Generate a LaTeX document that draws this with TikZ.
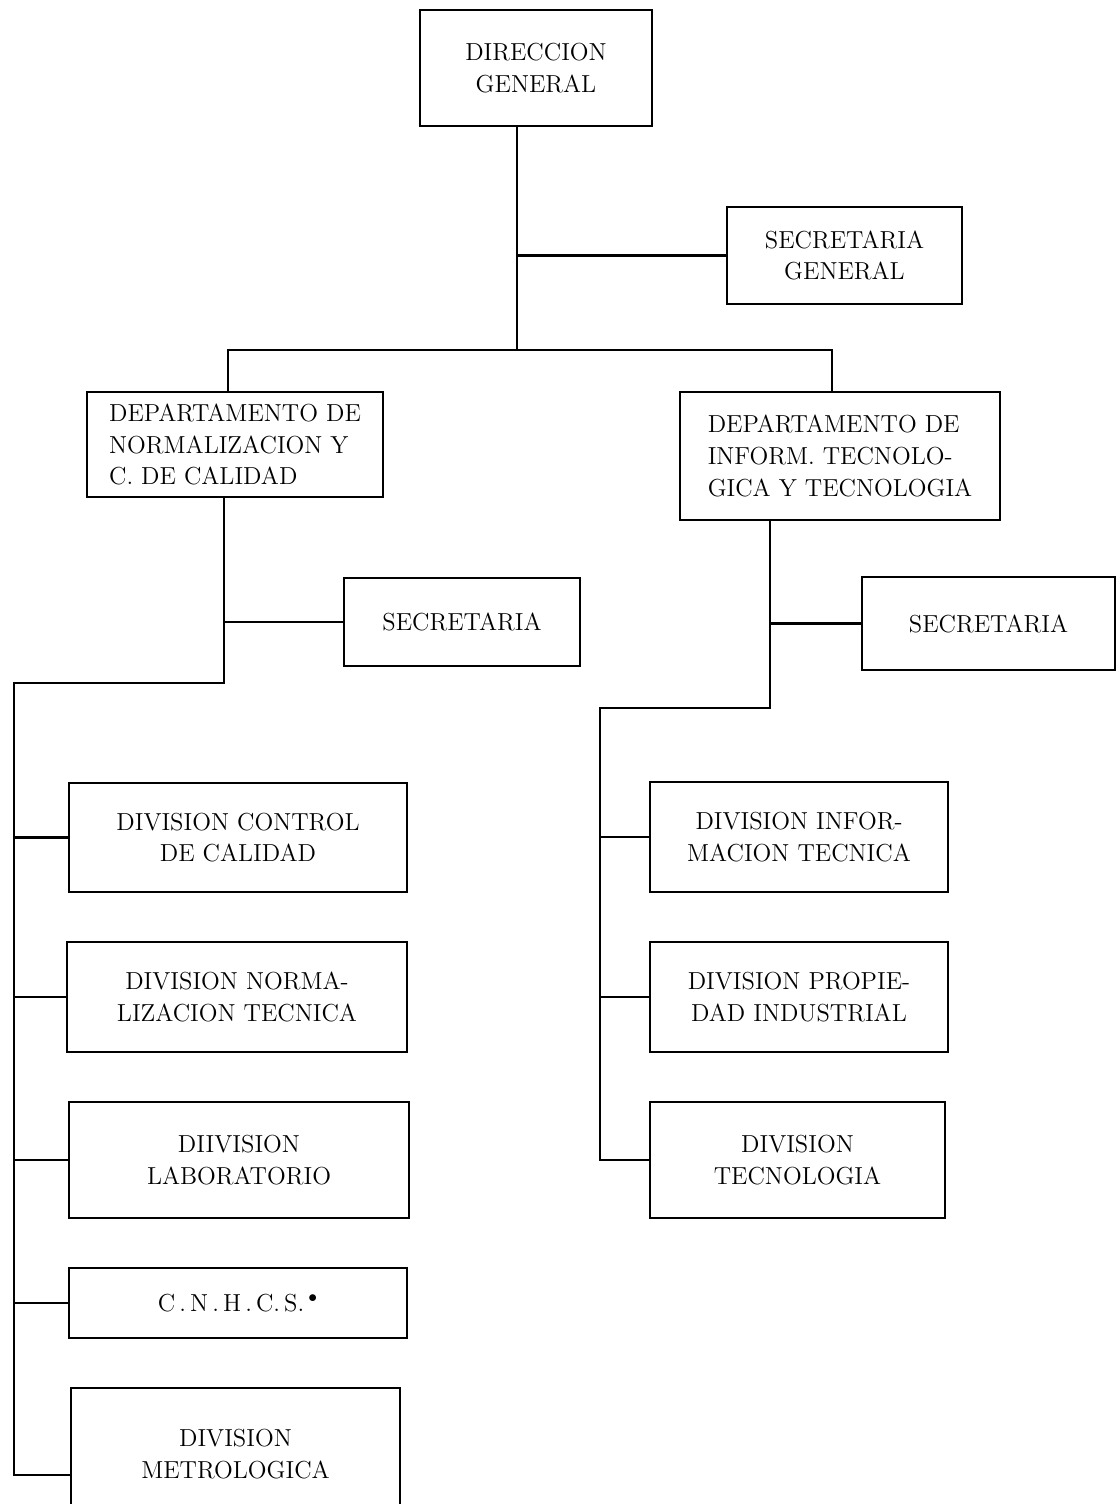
\documentclass[tikz,border=0pt]{standalone}
\usepackage{fontspec}
\usetikzlibrary{calc}

\begin{document}
\begin{tikzpicture}[x=0.02cm,y=-0.02cm]
\tikzstyle{unit} = [draw, line width=1.6pt, align=center, inner sep=0pt, font=\fontsize{14}{18}\selectfont]
\tikzstyle{link} = [line width=1.6pt]
\useasboundingbox (0,0) rectangle (1117,1504);

% direccion
\node[unit, minimum width=4.64cm, minimum height=2.32cm](dir) at (536,68) {DIRECCION\\GENERAL};
\node[unit, minimum width=4.70cm, minimum height=1.94cm](secg) at (844.5,255.5) {SECRETARIA\\GENERAL};

% departamentos
\node[unit, align=left, minimum width=5.92cm, minimum height=2.10cm](depn) at (235,444.5)
    {DEPARTAMENTO DE\\NORMALIZACION Y\\C. DE CALIDAD};
\node[unit, align=left, minimum width=6.40cm, minimum height=2.56cm](depi) at (840,456)
    {DEPARTAMENTO DE\\INFORM. TECNOLO-\\GICA Y TECNOLOGIA};
\node[unit, minimum width=4.72cm, minimum height=1.76cm](sec1) at (462,622) {SECRETARIA};
\node[unit, minimum width=5.06cm, minimum height=1.86cm](sec2) at (988.5,623.5) {SECRETARIA};

% divisiones izquierda
\node[unit, minimum width=6.76cm, minimum height=2.18cm](dcc) at (238,837.5) {DIVISION CONTROL\\DE CALIDAD};
\node[unit, minimum width=6.80cm, minimum height=2.20cm](dnt) at (237,997) {DIVISION NORMA-\\LIZACION TECNICA};
\node[unit, minimum width=6.80cm, minimum height=2.32cm](dlab) at (239,1160) {DIIVISION\\LABORATORIO};
\node[unit, minimum width=6.76cm, minimum height=1.40cm](cnh) at (238,1303) {C\,.\,N\,.\,H\,.\,C.\,S.\,$^{\bullet}$};
\node[unit, minimum width=6.58cm, minimum height=2.64cm](dmet) at (235.5,1454) {DIVISION\\METROLOGICA};

% divisiones derecha
\node[unit, minimum width=5.96cm, minimum height=2.20cm](dit) at (799,837) {DIVISION INFOR-\\MACION TECNICA};
\node[unit, minimum width=5.96cm, minimum height=2.20cm](dpi) at (799,997) {DIVISION PROPIE-\\DAD INDUSTRIAL};
\node[unit, minimum width=5.90cm, minimum height=2.32cm](dtec) at (797.5,1160) {DIVISION\\TECNOLOGIA};

\coordinate (j1) at (517,350);
\coordinate (jl) at (228,350);
\coordinate (jr) at (832,350);
\coordinate (kl) at (224,683);
\coordinate (bl) at (14,683);
\coordinate (bm) at (14,1475);
\coordinate (kr) at (770,708);
\coordinate (br) at (600,708);
\coordinate (bt) at (600,1160);

\draw[link] (dir.south -| j1) -- (j1);
\draw[link] (secg.west) -- (secg.west -| j1);
\draw[link] (depn.north -| jl) -- (jl) -- (jr) -- (depi.north -| jr);

\draw[link] (depn.south -| kl) -- (kl) -- (bl) -- (bm) -- (bm -| dmet.west);
\draw[link] (sec1.west) -- (sec1.west -| kl);
\foreach \d in {dcc,dnt,dlab,cnh}
    \draw[link] (\d.west) -- (\d.west -| bl);

\draw[link] (depi.south -| kr) -- (kr) -- (br) -- (bt) -- (dtec.west);
\draw[link] (sec2.west) -- (sec2.west -| kr);
\foreach \d in {dit,dpi}
    \draw[link] (\d.west) -- (\d.west -| br);
\end{tikzpicture}
\end{document}
